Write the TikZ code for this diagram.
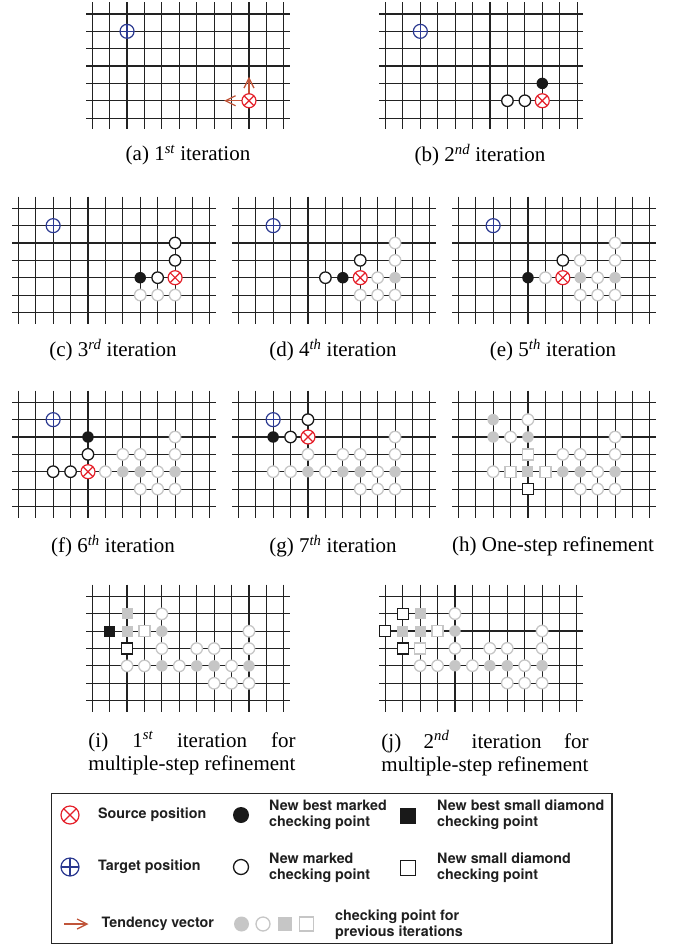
\documentclass[tikz,border=0pt]{standalone}
\definecolor{srcRed}{HTML}{E5202A}
\definecolor{tgtBlue}{HTML}{2B3990}
\definecolor{tendBrown}{HTML}{C0553A}
\definecolor{prevGray}{HTML}{C6C6C6}
\definecolor{gridInk}{HTML}{222222}
\usepackage{fontspec}
\setmainfont{Liberation Serif}
\newfontfamily\legendfont{TeX Gyre Heros}
\usepackage{tikz}
\usetikzlibrary{arrows.meta}
\newsavebox{\capbox}
\newcommand{\ordsup}[1]{\textsuperscript{\itshape #1}}
\newcommand{\searchgrid}{%
  \foreach \gx in {0,...,11} \draw[gridline] (\gx,-0.68) -- (\gx,6.65);
  \foreach \gy in {0,...,6} \draw[gridline] (-0.35,\gy) -- (11.35,\gy);}
\newcommand{\pts}[3]{\foreach \px/\py in {#3} \node[#1] (#2-\px-\py) at (\px,\py) {};}
\newcommand{\twolinecap}[2]{\sbox{\capbox}{#2}\makebox[\wd\capbox][s]{#1}\\#2}

\tikzset{
  gridline/.style={draw=gridInk, line width=1.1pt},
  ptbase/.style={circle, inner sep=0pt, minimum size=11.5pt, line width=1.3pt},
  newbest/.style={ptbase, fill=black!90},
  newpt/.style={ptbase, draw=black!90, fill=white},
  prevpt/.style={ptbase, draw=prevGray, fill=white},
  prevbest/.style={ptbase, fill=prevGray},
  sqbase/.style={rectangle, inner sep=0pt, minimum size=11pt, line width=1.3pt},
  sqbest/.style={sqbase, fill=black!90},
  sqnew/.style={sqbase, draw=black!90, fill=white},
  sqprev/.style={sqbase, draw=prevGray, fill=white},
  sqprevbest/.style={sqbase, fill=prevGray},
  srcpos/.style={circle, inner sep=0pt, minimum size=14pt, draw=srcRed, fill=white,
    line width=1.2pt,
    path picture={\draw[srcRed, line width=1.2pt]
      (path picture bounding box.north west) -- (path picture bounding box.south east)
      (path picture bounding box.north east) -- (path picture bounding box.south west);}},
  tgtpos/.style={circle, inner sep=0pt, minimum size=14pt, draw=tgtBlue, fill=white,
    line width=1.2pt,
    path picture={\draw[tgtBlue, line width=1.2pt]
      (path picture bounding box.north) -- (path picture bounding box.south)
      (path picture bounding box.west) -- (path picture bounding box.east);}},
  tendency/.style={draw=tendBrown, line width=1.3pt,
    -{Straight Barb[length=10pt, width=10pt, line width=1.3pt]}},
  subcap/.style={font=\fontsize{21}{23}\selectfont, align=left},
  legtext/.style={font=\legendfont\bfseries\fontsize{14.3}{16}\selectfont, anchor=west,
    align=left, inner sep=0pt, text=black!88}
}

\begin{document}
\begin{tikzpicture}[x=1pt, y=-1pt]
  \useasboundingbox (0,0) rectangle (674,944);

  % (a) first iteration
  \begin{scope}[shift={(92.2,14)}, x=17.42pt, y=-17.35pt]
    \searchgrid
    \node[tgtpos] (atgt) at (2,1) {};
    \node[srcpos] (asrc) at (9,5) {};
    \coordinate (aup) at (9,3.61);
    \coordinate (aleft) at (7.57,5);
    \draw[tendency] (asrc) -- (aup);
    \draw[tendency] (asrc) -- (aleft);
  \end{scope}
  \node[subcap] (capa) at (188,155) {(a) 1\ordsup{st} iteration};

  % (b)
  \begin{scope}[shift={(385.5,14)}, x=17.42pt, y=-17.35pt]
    \searchgrid
    \node[tgtpos] (btgt) at (2,1) {};
    \node[srcpos] (bsrc) at (9,5) {};
    \pts{newpt}{b}{7/5,8/5}
    \pts{newbest}{b}{9/4}
  \end{scope}
  \node[subcap] (capb) at (480,155) {(b) 2\ordsup{nd} iteration};

  % (c)
  \begin{scope}[shift={(18.3,208.3)}, x=17.42pt, y=-17.35pt]
    \searchgrid
    \node[tgtpos] (ctgt) at (2,1) {};
    \pts{prevpt}{c}{7/5,8/5,9/5}
    \node[srcpos] (csrc) at (9,4) {};
    \pts{newpt}{c}{8/4,9/3,9/2}
    \pts{newbest}{c}{7/4}
  \end{scope}
  \node[subcap] (capc) at (113,350) {(c) 3\ordsup{rd} iteration};

  % (d)
  \begin{scope}[shift={(238.3,208.3)}, x=17.42pt, y=-17.35pt]
    \searchgrid
    \node[tgtpos] (dtgt) at (2,1) {};
    \pts{prevpt}{d}{8/4,9/3,9/2,7/5,8/5,9/5}
    \pts{prevbest}{d}{9/4}
    \node[srcpos] (dsrc) at (7,4) {};
    \pts{newpt}{d}{5/4,7/3}
    \pts{newbest}{d}{6/4}
  \end{scope}
  \node[subcap] (capd) at (333,350) {(d) 4\ordsup{th} iteration};

  % (e)
  \begin{scope}[shift={(458.3,208.3)}, x=17.42pt, y=-17.35pt]
    \searchgrid
    \node[tgtpos] (etgt) at (2,1) {};
    \pts{prevpt}{e}{5/4,7/3,8/4,9/3,9/2,7/5,8/5,9/5}
    \pts{prevbest}{e}{7/4,9/4}
    \node[srcpos] (esrc) at (6,4) {};
    \pts{newpt}{e}{6/3}
    \pts{newbest}{e}{4/4}
  \end{scope}
  \node[subcap] (cape) at (553,350) {(e) 5\ordsup{th} iteration};

  % (f)
  \begin{scope}[shift={(18.3,402.3)}, x=17.42pt, y=-17.35pt]
    \searchgrid
    \node[tgtpos] (ftgt) at (2,1) {};
    \pts{prevpt}{f}{5/4,6/3,7/3,8/4,9/2,9/3,7/5,8/5,9/5}
    \pts{prevbest}{f}{6/4,7/4,9/4}
    \node[srcpos] (fsrc) at (4,4) {};
    \pts{newpt}{f}{4/3,3/4,2/4}
    \pts{newbest}{f}{4/2}
  \end{scope}
  \node[subcap] (capf) at (113,546) {(f) 6\ordsup{th} iteration};

  % (g)
  \begin{scope}[shift={(238.3,402.3)}, x=17.42pt, y=-17.35pt]
    \searchgrid
    \node[tgtpos] (gtgt) at (2,1) {};
    \pts{prevpt}{g}{4/3,2/4,3/4,5/4,6/3,7/3,8/4,9/2,9/3,7/5,8/5,9/5}
    \pts{prevbest}{g}{4/4,6/4,7/4,9/4}
    \node[srcpos] (gsrc) at (4,2) {};
    \pts{newpt}{g}{3/2,4/1}
    \pts{newbest}{g}{2/2}
  \end{scope}
  \node[subcap] (capg) at (333,546) {(g) 7\ordsup{th} iteration};

  % (h) one-step refinement
  \begin{scope}[shift={(458.3,402.3)}, x=17.42pt, y=-17.35pt]
    \searchgrid
    \pts{prevpt}{h}{4/1,3/2,2/4,6/3,7/3,8/4,9/2,9/3,7/5,8/5,9/5}
    \pts{prevbest}{h}{2/1,2/2,4/2,6/4,7/4,9/4}
    \pts{sqprev}{h}{4/3,3/4,5/4}
    \pts{sqprevbest}{h}{4/4}
    \pts{sqnew}{h}{4/5}
  \end{scope}
  \node[subcap] (caph) at (553,546) {(h) One-step refinement};

  % (i) multiple-step, 1st
  \begin{scope}[shift={(92.2,596.5)}, x=17.42pt, y=-17.35pt]
    \searchgrid
    \pts{prevpt}{i}{4/1,4/3,2/4,3/4,5/4,8/4,6/3,7/3,9/2,9/3,7/5,8/5,9/5}
    \pts{prevbest}{i}{4/2,4/4,6/4,7/4,9/4}
    \pts{sqprevbest}{i}{2/1,2/2}
    \pts{sqprev}{i}{3/2}
    \pts{sqnew}{i}{2/3}
    \pts{sqbest}{i}{1/2}
  \end{scope}
  \node[subcap] (capi) at (192,753)
    {\twolinecap{(i) 1\ordsup{st} iteration for}{multiple-step refinement}};

  % (j) multiple-step, 2nd
  \begin{scope}[shift={(385.3,596.3)}, x=17.42pt, y=-17.35pt]
    \searchgrid
    \pts{prevpt}{j}{4/1,4/3,2/4,3/4,5/4,8/4,6/3,7/3,9/2,9/3,7/5,8/5,9/5}
    \pts{prevbest}{j}{4/2,4/4,6/4,7/4,9/4}
    \pts{sqprevbest}{j}{1/2,2/1,2/2}
    \pts{sqprev}{j}{2/3,3/2}
    \pts{sqnew}{j}{0/2,1/1,1/3}
  \end{scope}
  \node[subcap] (capj) at (485,753)
    {\twolinecap{(j) 2\ordsup{nd} iteration for}{multiple-step refinement}};

  % legend
  \draw[line width=1.1pt, draw=black!85] (51.7,793.3) rectangle (612,943.6);
  \node[srcpos, minimum size=18pt] (lgsrc) at (70,815) {};
  \node[legtext] (lgsrctxt) at (98,815) {Source position};
  \node[newbest, minimum size=16pt] (lgbest) at (241,815) {};
  \node[legtext] (lgbesttxt) at (269,815) {New best marked\\checking point};
  \node[sqbest, minimum size=16pt] (lgsqbest) at (408,815.5) {};
  \node[legtext] (lgsqbesttxt) at (437,815) {New best small diamond\\checking point};
  \node[tgtpos, minimum size=18pt] (lgtgt) at (70,867) {};
  \node[legtext] (lgtgttxt) at (98,867) {Target position};
  \node[newpt, minimum size=15pt] (lgnew) at (241,867) {};
  \node[legtext] (lgnewtxt) at (269,867.5) {New marked\\checking point};
  \node[sqnew, minimum size=15pt] (lgsqnew) at (408,868) {};
  \node[legtext] (lgsqnewtxt) at (437,867.5) {New small diamond\\checking point};
  \coordinate (lgtail) at (64,924);
  \coordinate (lghead) at (88.5,924);
  \draw[tendency] (lgtail) -- (lghead);
  \node[legtext] (lgtendtxt) at (101.5,924) {Tendency vector};
  \node[prevbest, minimum size=15pt] (lgpbest) at (241.5,924) {};
  \node[prevpt, minimum size=14pt] (lgpnew) at (263,924) {};
  \node[sqprevbest, minimum size=14pt] (lgpsqbest) at (285,924) {};
  \node[sqprev, minimum size=14pt] (lgpsq) at (306.5,924) {};
  \node[legtext] (lgprevtxt) at (335,924.5) {checking point for\\previous iterations};
\end{tikzpicture}
\end{document}
